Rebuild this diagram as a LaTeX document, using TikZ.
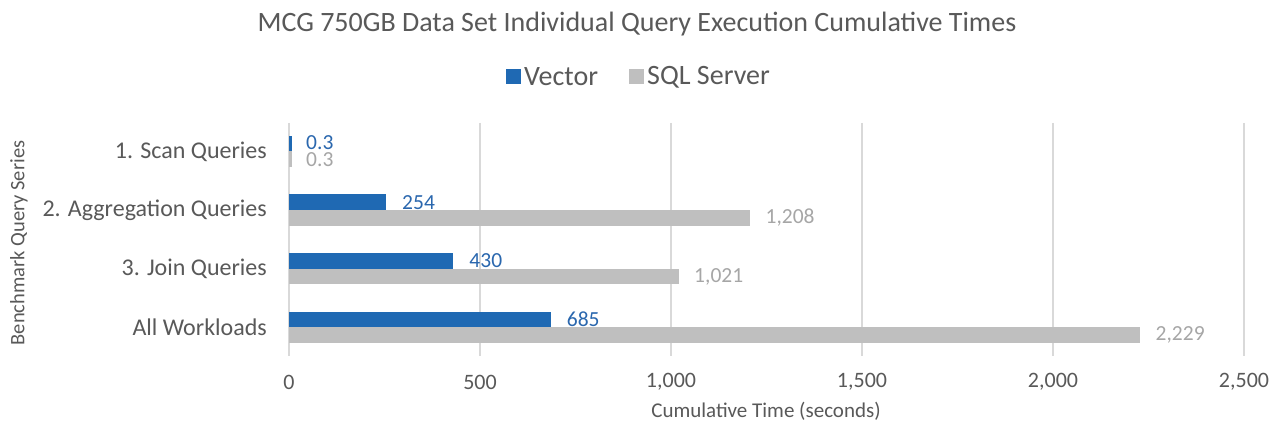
\documentclass[tikz,border=0pt]{standalone}
\usepackage{fontspec}
\setmainfont{Carlito}
\definecolor{vblue}{HTML}{1F69B3}
\definecolor{vlab}{HTML}{2A67AE}
\definecolor{sgray}{HTML}{BFBFBF}
\definecolor{glab}{HTML}{A6A6A6}
\definecolor{txt}{HTML}{595959}
\definecolor{gridc}{HTML}{D9D9D9}
\begin{document}
\begin{tikzpicture}[x=1pt,y=-1pt,
  gridline/.style={draw=gridc,line width=1.4pt},
  ticklab/.style={text=txt,font=\fontsize{22}{22}\selectfont,inner sep=0pt},
  catlab/.style={text=txt,font=\fontsize{24}{24}\selectfont,inner sep=0pt,anchor=east},
  vlabel/.style={text=vlab,font=\fontsize{21.5}{21.5}\selectfont,inner sep=0pt,anchor=west},
  slabel/.style={text=glab,font=\fontsize{21.5}{21.5}\selectfont,inner sep=0pt,anchor=west},
  vbar/.style={fill=vblue},
  sbar/.style={fill=sgray},
  legtext/.style={text=txt,font=\fontsize{28}{28}\selectfont,inner sep=0pt,anchor=west}]
\useasboundingbox (0,0) rectangle (1275,425);
\fill[white] (0,0) rectangle (1275,425);
% title
\node[text=txt,font=\fontsize{28}{28}\selectfont,inner sep=0pt] (title) at (637,24) {MCG 750GB Data Set Individual Query Execution Cumulative Times};
% legend
\node[vbar,minimum width=15pt,minimum height=15pt,inner sep=0pt] (legv) at (513,77) {};
\node[legtext] (legvt) at (524,77) {Vector};
\node[sbar,minimum width=15pt,minimum height=15pt,inner sep=0pt] (legs) at (636,77) {};
\node[legtext] (legst) at (647,77) {SQL Server};
% grid and ticks
\foreach \v/\lab [count=\i] in {0/0,500/500,1000/{1,000},1500/{1,500},2000/{2,000},2500/{2,500}} {
  \draw[gridline] ({289+\v*0.382},123) -- ({289+\v*0.382},356);
  \node[ticklab] (tick\i) at ({289+\v*0.382},382) {\lab};
}
% bars
\foreach \c/\vv/\sv/\vl/\sl/\name [count=\i] in {
   210/254/1208/254/{1,208}/2. Aggregation Queries,
   268.5/430/1021/430/{1,021}/3. Join Queries,
   327/685/2229/685/{2,229}/All Workloads} {
  \fill[vbar] (289,{\c-15.5}) rectangle ({289+\vv*0.382},\c);
  \fill[sbar] (289,\c) rectangle ({289+\sv*0.382},{\c+15.5});
  \node[vlabel] (vl\i) at ({289+\vv*0.382+16},{\c-7.5}) {\vl};
  \node[slabel] (sl\i) at ({289+\sv*0.382+15},{\c+8}) {\sl};
  \node[catlab] (cat\i) at (267,\c) {\name};
}
% scan queries (tiny values)
\fill[vbar] (289,136) rectangle (291.5,151.5);
\fill[sbar] (289,151.5) rectangle (291.5,167);
\node[vlabel] (vl0) at (306,143) {0.3};
\node[slabel] (sl0) at (306,160) {0.3};
\node[catlab] (cat0) at (267,151.5) {1. Scan Queries};
% axis titles
\node[text=txt,font=\fontsize{20.5}{20.5}\selectfont,inner sep=0pt,rotate=90] (ytitle) at (19,243) {Benchmark Query Series};
\node[text=txt,font=\fontsize{21}{21}\selectfont,inner sep=0pt] (xtitle) at (766,411) {Cumulative Time (seconds)};
\end{tikzpicture}
\end{document}
